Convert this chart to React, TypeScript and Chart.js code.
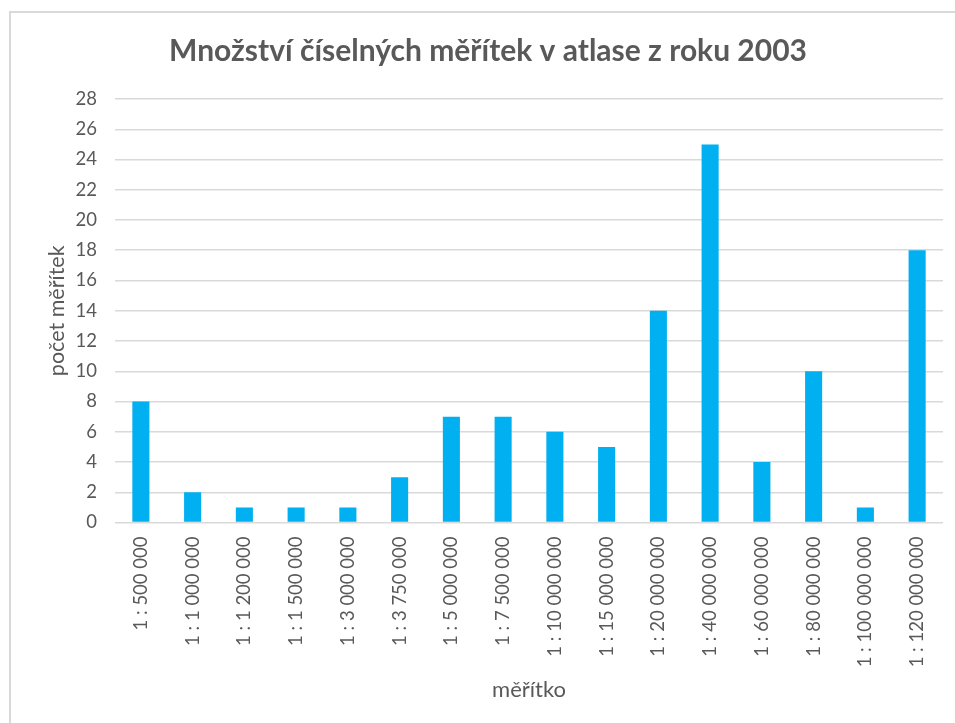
import React, { useEffect, useRef } from "react";
import { Chart, registerables } from "chart.js";

Chart.register(...registerables);

const title = "Množství číselných měřítek v atlase z roku 2003";
const xTitle = "měřítko";
const yTitle = "počet měřítek";

const categories = [
  "1 : 500 000",
  "1 : 1 000 000",
  "1 : 1 200 000",
  "1 : 1 500 000",
  "1 : 3 000 000",
  "1 : 3 750 000",
  "1 : 5 000 000",
  "1 : 7 500 000",
  "1 : 10 000 000",
  "1 : 15 000 000",
  "1 : 20 000 000",
  "1 : 40 000 000",
  "1 : 60 000 000",
  "1 : 80 000 000",
  "1 : 100 000 000",
  "1 : 120 000 000",
];

const counts = [8, 2, 1, 1, 1, 3, 7, 7, 6, 5, 14, 25, 4, 10, 1, 18];

const yMin = 0;
const yMax = 28;
const yStep = 2;

const FONT = "Lato, 'Open Sans', sans-serif";
const TEXT = "#595959";
const GRID = "#d9d9d9";
const BAR = "#00b0f0";

const borderPlugin = {
  id: "chartBorder",
  beforeDraw(chart: any) {
    const ctx = chart.ctx;
    ctx.save();
    ctx.fillStyle = "#ffffff";
    ctx.fillRect(0, 0, chart.width, chart.height);
    ctx.strokeStyle = GRID;
    ctx.lineWidth = 2;
    ctx.strokeRect(10, 12, chart.width + 50, chart.height + 50);
    ctx.restore();
  },
};

export default function App() {
  const ref = useRef<HTMLCanvasElement | null>(null);

  useEffect(() => {
    if (!ref.current) return;
    const chart = new Chart(ref.current, {
      type: "bar",
      data: {
        labels: categories,
        datasets: [
          {
            label: yTitle,
            data: counts,
            backgroundColor: BAR,
            borderWidth: 0,
            barPercentage: 0.33,
            categoryPercentage: 1,
          },
        ],
      },
      plugins: [borderPlugin],
      options: {
        responsive: false,
        animation: false,
        layout: { padding: { left: 33, right: 12, top: 0, bottom: 0 } },
        plugins: {
          legend: { display: false },
          tooltip: { enabled: false },
          title: {
            display: true,
            text: title,
            color: TEXT,
            font: { family: FONT, size: 30, weight: "bold" },
            padding: { top: 33, bottom: 30 },
          },
        },
        scales: {
          x: {
            grid: { display: false, drawTicks: false },
            border: { display: false },
            ticks: {
              color: TEXT,
              font: { family: FONT, size: 18.5 },
              minRotation: 90,
              maxRotation: 90,
              padding: 14,
              autoSkip: false,
            },
            title: {
              display: true,
              text: xTitle,
              color: TEXT,
              font: { family: FONT, size: 22 },
              padding: { top: 20, bottom: 20 },
            },
            afterFit: (scale: any) => {
              scale.height = 200.5;
            },
          },
          y: {
            min: yMin,
            max: yMax,
            grid: { color: GRID, lineWidth: 1.5, drawTicks: false },
            border: { display: false },
            ticks: {
              stepSize: yStep,
              color: TEXT,
              font: { family: FONT, size: 18.5 },
              padding: 18,
            },
            title: {
              display: true,
              text: yTitle,
              color: TEXT,
              font: { family: FONT, size: 21.5 },
              padding: { top: 11, bottom: 11 },
            },
            afterFit: (scale: any) => {
              scale.width = 82;
            },
          },
        },
      },
    });
    return () => chart.destroy();
  }, []);

  return (
    <div style={{ position: "fixed", left: 0, top: 0, width: 955, height: 723, overflow: "hidden", background: "#fff" }}>
      <canvas ref={ref} width={955} height={723} style={{ display: "block" }} />
    </div>
  );
}
